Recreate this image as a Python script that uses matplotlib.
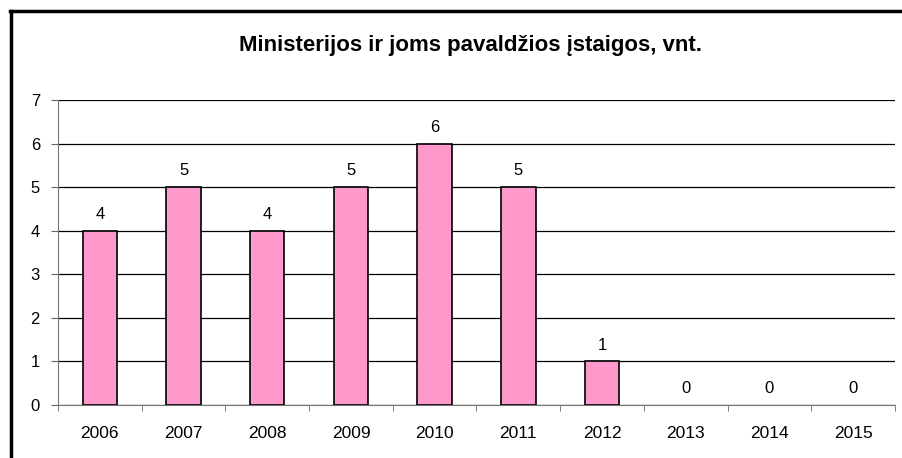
import numpy as np
import matplotlib.pyplot as plt
from matplotlib.lines import Line2D

years = ["2006", "2007", "2008", "2009", "2010", "2011", "2012", "2013", "2014", "2015"]
counts = [4, 5, 4, 5, 6, 5, 1, 0, 0, 0]
yticks = [0, 1, 2, 3, 4, 5, 6, 7]

plt.rcParams['font.family'] = ['Liberation Sans', 'DejaVu Sans']

fig = plt.figure(figsize=(9.03, 4.58), dpi=100)
ax = fig.add_axes([58/903, 1-405/458, (895-58)/903, (405-100)/458])

x = np.arange(len(years))
edges = ["black" if v > 0 else "none" for v in counts]
ax.bar(x, counts, width=0.41, color="#FF99CC", edgecolor=edges, linewidth=1.2, zorder=3)
for xi, v in zip(x, counts):
    ax.text(xi, v + 0.2, str(v), ha="center", va="bottom", fontsize=12)

ax.set_xlim(-0.5, len(years) - 0.5)
ax.set_ylim(0, 7)
ax.set_yticks(yticks)
ax.set_yticklabels([str(t) for t in yticks], fontsize=12)
ax.yaxis.grid(True, color="black", linewidth=0.9, zorder=0)
ax.set_xticks(x)
ax.set_xticklabels(years, fontsize=12.5)
ax.tick_params(axis="x", length=0, pad=15)
ax.set_xticks(np.arange(len(years) + 1) - 0.5, minor=True)
ax.tick_params(axis="x", which="minor", length=4, direction="out", color="#666666")
ax.tick_params(axis="y", length=5, direction="out", color="#666666", pad=8)

for s in ["top", "right"]:
    ax.spines[s].set_visible(False)
ax.spines["left"].set_color("#777777")
ax.spines["bottom"].set_color("#777777")

fig.text(471/903, 1-45/458, "Ministerijos ir joms pavaldžios įstaigos, vnt.",
         ha="center", va="center", fontsize=16, fontweight="bold")

# chart frame (top and left edges visible)
fig.add_artist(Line2D([10/903, 1], [1-11/458, 1-11/458], color="black", linewidth=2.5, transform=fig.transFigure))
fig.add_artist(Line2D([11/903, 11/903], [0, 1-11/458], color="black", linewidth=2.5, transform=fig.transFigure))

fig.savefig("out.png", dpi=100)
